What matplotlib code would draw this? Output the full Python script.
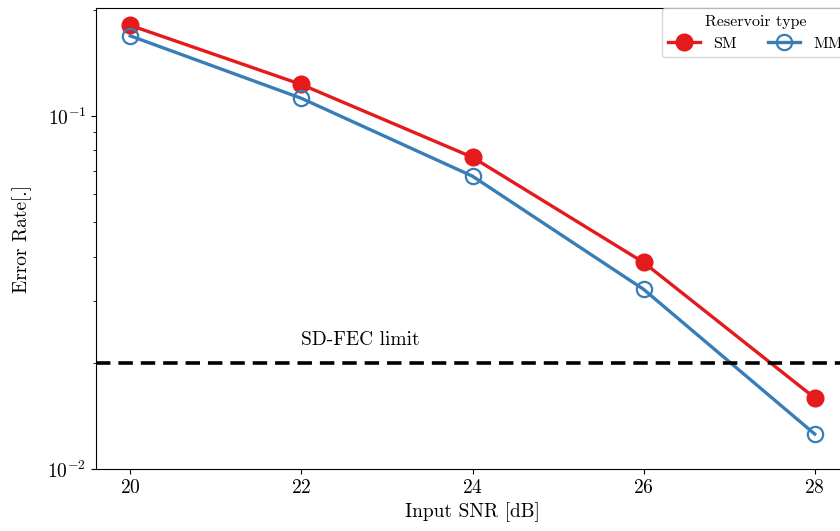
import matplotlib
matplotlib.use("Agg")
import matplotlib.pyplot as plt

# data
snr = [20, 22, 24, 26, 28]
err_sm = [0.181, 0.123, 0.0765, 0.0385, 0.0159]
err_mm = [0.169, 0.1124, 0.0676, 0.0323, 0.01256]
fec_limit = 0.02

plt.rcParams['font.family'] = 'serif'
plt.rcParams['font.serif'] = ['cmr10']
plt.rcParams['mathtext.fontset'] = 'cm'
plt.rcParams['axes.formatter.use_mathtext'] = True
plt.rcParams['font.size'] = 14

fig = plt.figure(figsize=(8.4, 5.31), dpi=100)
ax = fig.add_axes([0.1143, 0.1168, 0.8964, 0.8672])

ax.plot(snr, err_sm, color='#e41a1c', lw=2.4, marker='o', ms=12, label='SM')
ax.plot(snr, err_mm, color='#377eb8', lw=2.4, marker='o', ms=11,
        mfc='none', mew=1.6, label='MM')
ax.axhline(fec_limit, color='black', ls='--', lw=2.6, dashes=(4, 2.2))
ax.text(22, 0.0225, 'SD-FEC limit', fontsize=14)

ax.set_yscale('log')
ax.set_ylim(0.01, 0.202)
ax.set_xlim(19.6, 28.4)
ax.set_xticks(snr)
ax.set_xlabel('Input SNR [dB]')
ax.set_ylabel('Error Rate[.]', labelpad=11)
ax.spines['right'].set_visible(False)

ax.legend(title='Reservoir type', ncol=2, loc='upper right', fontsize=11.5,
          title_fontsize=11.5, borderaxespad=0.0)

fig.savefig('out.png', dpi=100)
